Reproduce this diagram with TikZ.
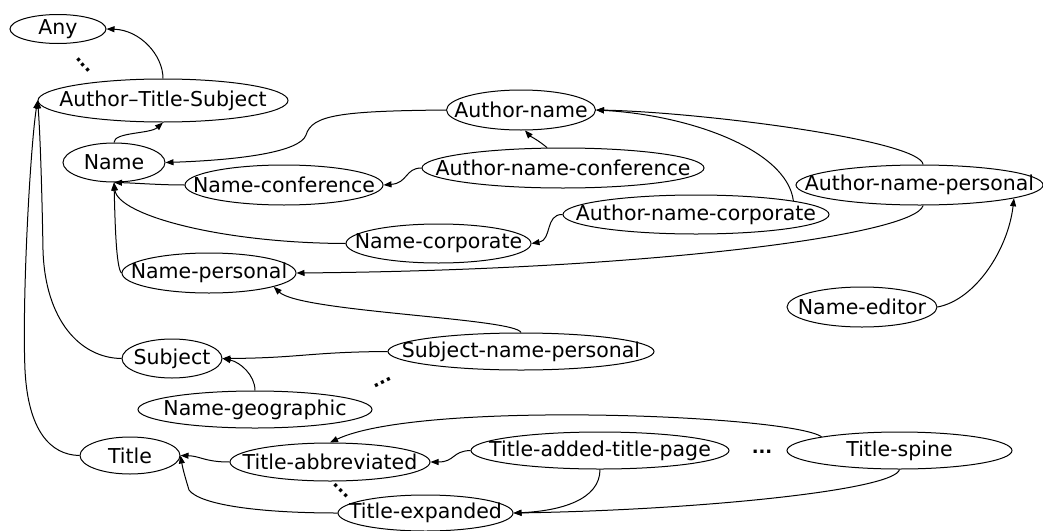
\documentclass[tikz,border=0pt]{standalone}
\usepackage{fontspec}
\setmainfont{DejaVu Sans}
\usepackage{tikz}
\usetikzlibrary{shapes,arrows.meta}
\tikzset{cls/.style={ellipse, draw, line width=1pt, inner xsep=-200pt, inner ysep=-50pt, font=\fontsize{20.5}{24}\selectfont},isa/.style={line width=1pt,-{Triangle[length=8pt,width=6pt]}},dots/.style={inner sep=0pt, text height=3pt, text depth=0pt, font=\fontsize{18}{20}\selectfont\bfseries}}

\begin{document}
\begin{tikzpicture}[x=1pt,y=1pt]
  \useasboundingbox (0,0) rectangle (1043,-530);
  % classes
  \node[cls, minimum width=96pt, minimum height=29pt] (any) at (58,-29) {Any};
  \node[cls, minimum width=250pt, minimum height=43pt] (ats) at (163,-100.5) {Author–Title-Subject};
  \node[cls, minimum width=102pt, minimum height=39pt] (name) at (114,-162.5) {Name};
  \node[cls, minimum width=149pt, minimum height=40pt] (an) at (521,-110) {Author-name};
  \node[cls, minimum width=282pt, minimum height=40pt] (anc) at (563,-168) {Author-name-conference};
  \node[cls, minimum width=198pt, minimum height=40pt] (nconf) at (284,-185) {Name-conference};
  \node[cls, minimum width=185pt, minimum height=39pt] (ncorp) at (438.5,-243.5) {Name-corporate};
  \node[cls, minimum width=266pt, minimum height=39pt] (ancorp) at (696,-214.5) {Author-name-corporate};
  \node[cls, minimum width=247pt, minimum height=40pt] (anp) at (919.5,-185) {Author-name-personal};
  \node[cls, minimum width=174pt, minimum height=40pt] (npers) at (209,-273) {Name-personal};
  \node[cls, minimum width=150pt, minimum height=40pt] (ned) at (862,-307) {Name-editor};
  \node[cls, minimum width=266pt, minimum height=37pt] (snp) at (521,-351.5) {Subject-name-personal};
  \node[cls, minimum width=100pt, minimum height=39pt] (subj) at (172,-358.5) {Subject};
  \node[cls, minimum width=234pt, minimum height=37pt] (ngeo) at (255,-409.5) {Name-geographic};
  \node[cls, minimum width=100pt, minimum height=37pt] (title) at (130,-455.5) {Title};
  \node[cls, minimum width=200pt, minimum height=38pt] (tabb) at (330,-462) {Title-abbreviated};
  \node[cls, minimum width=258pt, minimum height=37pt] (tadd) at (600,-450.5) {Title-added-title-page};
  \node[cls, minimum width=225pt, minimum height=37pt] (tspine) at (899.5,-450.5) {Title-spine};
  \node[cls, minimum width=175pt, minimum height=36pt] (texp) at (425.5,-513) {Title-expanded};
  % elided classes
  \node[dots, rotate=-50] (d1) at (83,-65) {...};
  \node[dots, rotate=25] (d2) at (383,-383) {...};
  \node[dots, rotate=-45] (d3) at (341,-491) {...};
  \node[dots] (d4) at (762,-452) {...};
  % is-a links
  \draw[isa] (ats.north) .. controls (163,-55) and (140,-30) .. (any.east);
  \draw[isa] (name.north) .. controls (114,-132) and (150,-134) .. (ats.south);
  \draw[isa] (an.west) .. controls (340,-111) and (312,-115) .. (306,-135) .. controls (300,-152) and (240,-160) .. (name.east);
  \draw[isa] (anc.128) .. controls (538,-140) and (530,-136) .. (an.-79);
  \draw[isa] (anc.west) .. controls (405,-168) and (408,-183) .. (nconf.east);
  \draw[isa] (nconf.west) .. controls (160,-185) and (135,-183) .. (name.south);
  \draw[isa] (ncorp.west) .. controls (220,-243) and (118,-215) .. (name.south);
  \draw[isa] (npers.west) .. controls (116,-268) and (115,-220) .. (name.south);
  \draw[isa] (ancorp.west) .. controls (545,-214) and (552,-240) .. (ncorp.east);
  \draw[isa] (ancorp.8) .. controls (787,-150) and (690,-115) .. (an.east);
  \draw[isa] (anp.80) .. controls (920,-140) and (700,-112) .. (an.east);
  \draw[isa] (anp.-80) .. controls (915,-235) and (650,-270) .. (npers.east);
  \draw[isa] (ned.east) .. controls (975,-300) and (1008,-250) .. (anp.-8);
  \draw[isa] (snp.north) .. controls (515,-318) and (300,-312) .. (npers.-12);
  \draw[isa] (snp.west) .. controls (310,-352) and (300,-358) .. (subj.east);
  \draw[isa] (ngeo.north) .. controls (255,-375) and (240,-362) .. (subj.east);
  \draw[isa] (subj.west) .. controls (80,-358) and (45,-320) .. (43,-250) .. controls (42,-190) and (40,-130) .. (ats.west);
  \draw[isa] (title.west) .. controls (50,-455) and (28,-430) .. (25,-370) .. controls (22,-300) and (30,-150) .. (ats.west);
  \draw[isa] (tabb.west) .. controls (205,-462) and (200,-456) .. (title.east);
  \draw[isa] (texp.west) .. controls (260,-513) and (200,-505) .. (189,-490) .. controls (186,-480) and (183,-470) .. (title.east);
  \draw[isa] (tadd.west) .. controls (452,-451) and (455,-462) .. (tabb.east);
  \draw[isa] (tadd.south) .. controls (600,-500) and (560,-511) .. (texp.east);
  \draw[isa] (tspine.170) .. controls (790,-415) and (420,-400) .. (tabb.north);
  \draw[isa] (tspine.south) .. controls (895,-490) and (700,-510) .. (texp.east);
\end{tikzpicture}
\end{document}
